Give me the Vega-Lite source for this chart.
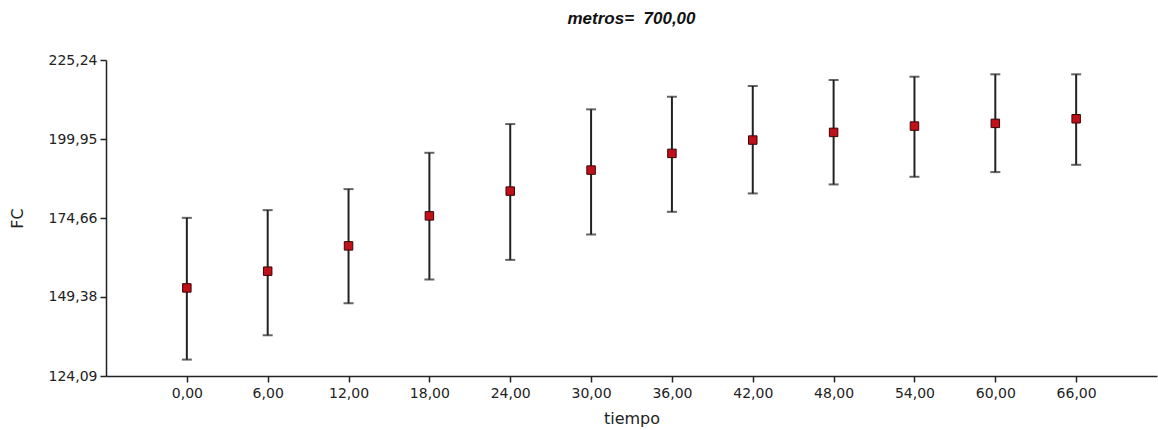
{
  "$schema": "https://vega.github.io/schema/vega-lite/v6.json",
  "autosize": {"type": "none"},
  "width": 1051,
  "height": 316,
  "padding": {"left": 106, "top": 60, "right": 1, "bottom": 54},
  "background": "white",
  "title": {
    "text": "metros=\u00a0 700,00",
    "anchor": "middle",
    "font": "Liberation Sans",
    "fontSize": 17,
    "fontWeight": "bold",
    "fontStyle": "italic",
    "color": "#111",
    "offset": 25
  },
  "data": {
    "values": [
      {"tiempo": 0, "fc": 152.29, "lower": 129.34, "upper": 174.71},
      {"tiempo": 6, "fc": 157.64, "lower": 137.13, "upper": 177.18},
      {"tiempo": 12, "fc": 165.74, "lower": 147.38, "upper": 183.91},
      {"tiempo": 18, "fc": 175.35, "lower": 154.98, "upper": 195.54},
      {"tiempo": 24, "fc": 183.27, "lower": 161.26, "upper": 204.73},
      {"tiempo": 30, "fc": 190.0, "lower": 169.39, "upper": 209.44},
      {"tiempo": 36, "fc": 195.35, "lower": 176.64, "upper": 213.48},
      {"tiempo": 42, "fc": 199.61, "lower": 182.53, "upper": 216.91},
      {"tiempo": 48, "fc": 202.07, "lower": 185.41, "upper": 218.83},
      {"tiempo": 54, "fc": 204.09, "lower": 187.85, "upper": 219.89},
      {"tiempo": 60, "fc": 204.96, "lower": 189.36, "upper": 220.66},
      {"tiempo": 66, "fc": 206.43, "lower": 191.69, "upper": 220.66}
    ]
  },
  "encoding": {
    "x": {
      "field": "tiempo",
      "type": "quantitative",
      "title": "tiempo",
      "scale": {"domain": [-6, 72], "nice": false, "zero": false},
      "axis": {
        "values": [0, 6, 12, 18, 24, 30, 36, 42, 48, 54, 60, 66],
        "labelExpr": "replace(format(datum.value, '.2f'), '.', ',')",
        "grid": false
      }
    }
  },
  "layer": [
    {
      "mark": {"type": "errorbar", "ticks": {"size": 10, "thickness": 2, "color": "#222"}, "thickness": 2, "color": "#222"},
      "encoding": {
        "y": {
          "field": "lower",
          "type": "quantitative",
          "title": "FC",
          "scale": {"domain": [124.09, 225.24], "nice": false, "zero": false},
          "axis": {
            "values": [124.09, 149.38, 174.66, 199.95, 225.24],
            "labelExpr": "replace(format(datum.value, '.2f'), '.', ',')",
            "grid": false
          }
        },
        "y2": {"field": "upper"}
      }
    },
    {
      "mark": {"type": "point", "shape": "square", "filled": true, "size": 72, "color": "#c0101a", "stroke": "#3a0505", "strokeWidth": 1, "opacity": 1},
      "encoding": {
        "y": {"field": "fc", "type": "quantitative"}
      }
    }
  ],
  "config": {
    "view": {"stroke": null},
    "axis": {
      "domainColor": "#222",
      "domainWidth": 1.5,
      "tickColor": "#222",
      "tickWidth": 1.5,
      "tickSize": 6,
      "labelFont": "DejaVu Sans",
      "labelFontSize": 14,
      "labelColor": "#222",
      "labelPadding": 3,
      "titleFont": "DejaVu Sans",
      "titleFontSize": 16,
      "titleFontWeight": "normal",
      "titleColor": "#222"
    },
    "axisX": {"titlePadding": 10, "labelPadding": 4},
    "axisY": {"titlePadding": 23}
  }
}
